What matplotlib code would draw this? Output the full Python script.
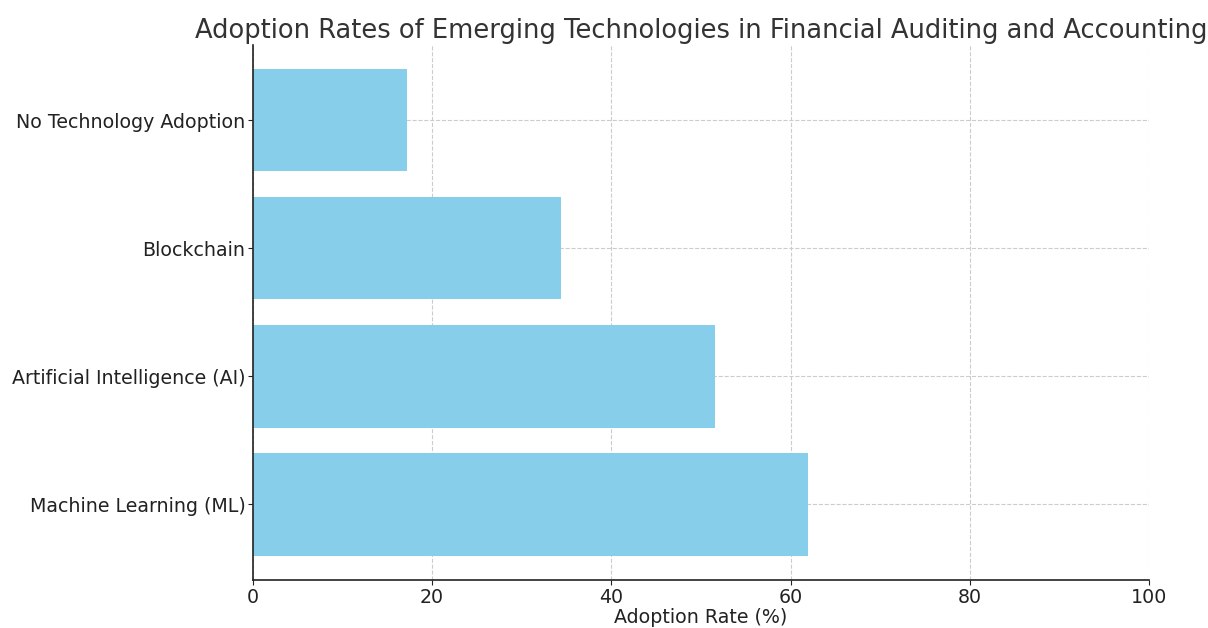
import matplotlib.pyplot as plt

categories = ["Machine Learning (ML)", "Artificial Intelligence (AI)", "Blockchain", "No Technology Adoption"]
rates = [62.0, 51.6, 34.4, 17.2]
xticks = [0, 20, 40, 60, 80, 100]

fig = plt.figure(figsize=(12.08, 6.28), dpi=100)
ax = fig.add_axes([0.2094, 0.0764, 0.7417, 0.8526])
ax.barh(categories, rates, color="skyblue", height=0.8, zorder=2)
ax.set_xlim(0, 100)
ax.set_xticks(xticks)
ax.set_xlabel("Adoption Rate (%)", fontsize=13.7, color="#222222", labelpad=1)
ax.set_title("Adoption Rates of Emerging Technologies in Financial Auditing and Accounting",
             fontsize=18.5, color="#333333", pad=5)
ax.grid(True, linestyle="--", color="#cccccc", linewidth=0.8, zorder=0)
ax.set_axisbelow(True)
for s in ["top", "right"]:
    ax.spines[s].set_visible(False)
for s in ["left", "bottom"]:
    ax.spines[s].set_color("#222222")
    ax.spines[s].set_linewidth(1.2)
ax.tick_params(labelsize=13.7, colors="#222222", pad=2)
fig.savefig("out.png", dpi=100)
